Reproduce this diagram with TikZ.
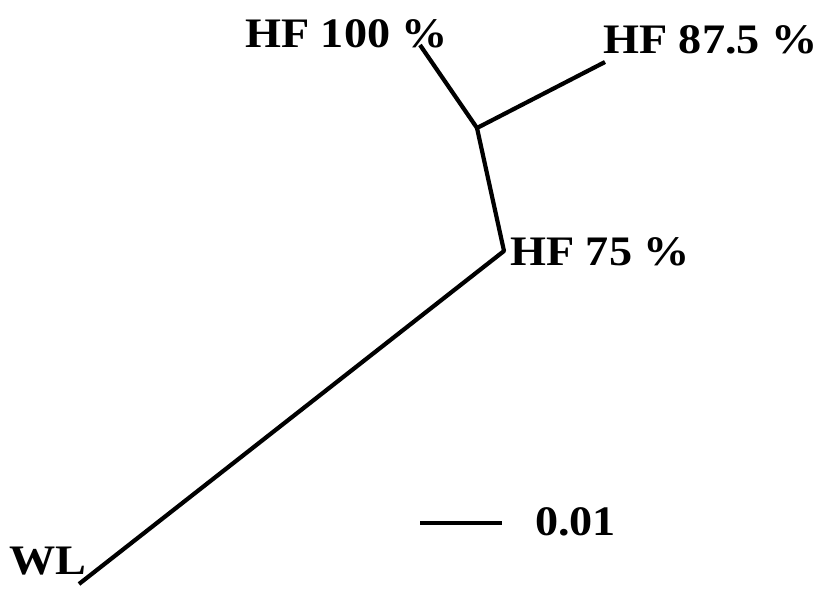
\documentclass[tikz,border=0pt]{standalone}
\usepackage{fontspec}
\setmainfont{Liberation Serif}
\newcommand{\widelbl}[1]{\scalebox{1.1}[1]{#1}}
\begin{document}
\begin{tikzpicture}[x=1pt, y=-1pt,
    branch/.style={line width=4.2pt, line join=round},
    taxon/.style={font=\bfseries\fontsize{42}{42}\selectfont,
      inner sep=0pt, anchor=base west},
  ]
  \useasboundingbox (0,0) rectangle (830,590);

  % Tree
  \coordinate (hf100) at (420,45);
  \coordinate (inner) at (477,128);
  \coordinate (hf875) at (605,62);
  \coordinate (hf75)  at (504,251);
  \coordinate (wl)    at (79,584);

  \draw[branch] (hf100) -- (inner) -- (hf75) -- (wl);
  \draw[branch] (inner) -- (hf875);

  % Labels
  \node[taxon] (lab100) at (245,47)  {\widelbl{HF 100 \%}};
  \node[taxon] (lab875) at (603,53)  {\widelbl{HF 87.5 \%}};
  \node[taxon] (lab75)  at (510,265) {\widelbl{HF 75 \%}};
  \node[taxon] (labwl)  at (9,574)   {\widelbl{WL}};

  % Scale bar
  \coordinate (bara) at (420,523);
  \coordinate (barb) at (502,523);
  \draw[branch] (bara) -- (barb);
  \node[taxon] (labbar) at (535,535) {\widelbl{0.01}};
\end{tikzpicture}
\end{document}
